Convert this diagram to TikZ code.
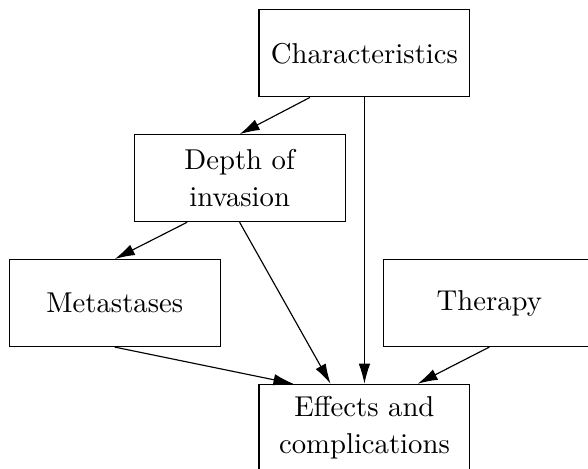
\documentclass[tikz,border=0pt]{standalone}
\usetikzlibrary{shapes,positioning,arrows.meta,calc}

\begin{document}
\begin{tikzpicture}[every node/.style={on grid},
		box/.style={draw, rectangle, minimum width=73.5pt, minimum height=30.3pt, inner sep=0pt, align=center,
			font=\fontsize{10pt}{12.9pt}\selectfont},
		node distance=43.5pt,
		>={Latex[length=7pt,width=4pt]}]
	\clip (-127pt,18.6pt) rectangle (77.9pt,-144.5pt);
	\node[box] (char) at (0,0) {Characteristics};
	\node[box,below left=43.5pt and 43.5pt of char] (depth) {Depth of\\invasion};
	\node[box,below left=43.5pt and 43.5pt of depth] (meta) {Metastases};
	\node[box,below right=87pt and 43.5pt of char] (ther) {Therapy};
	\node[box,below=130.5pt of char] (eff) {Effects and\\complications};
	
	\draw[->] ([xshift=-19pt]char.south) -- (depth.north);
	\draw[->] (char.south) -- (eff.north);
	\draw[->] ([xshift=-18.3pt]depth.south) -- (meta.north);
	\draw[->] (depth.south) -- ([xshift=-11.8pt]eff.north);
	\draw[->] (meta.south) -- ([xshift=-24.7pt]eff.north);
	\draw[->] (ther.south) -- ([xshift=18.5pt]eff.north);
\end{tikzpicture}
\end{document}
